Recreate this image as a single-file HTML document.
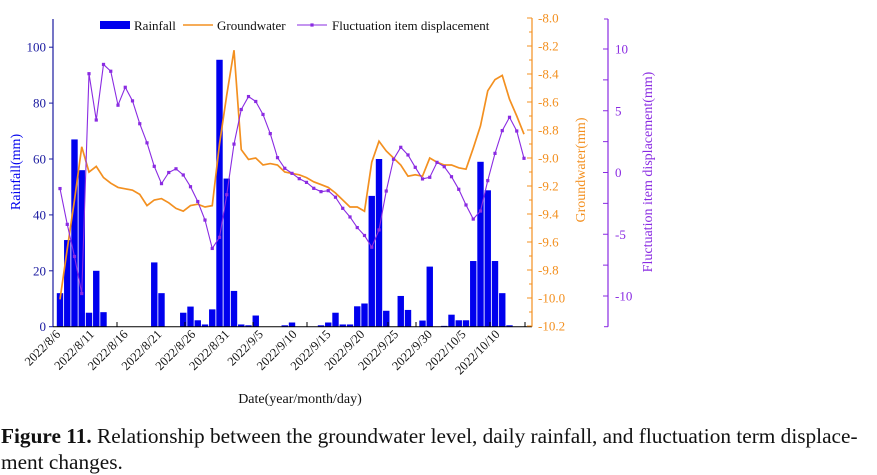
<!DOCTYPE html>
<html><head><meta charset="utf-8"><style>
body{margin:0;background:#fff;width:877px;height:474px;overflow:hidden}
svg{font-family:"Liberation Serif",serif}
.cap{position:absolute;left:1px;top:423px;font-family:"Liberation Serif",serif;font-size:21.3px;line-height:26px;color:#111;width:876px;white-space:nowrap}
</style></head><body>
<svg id="chart" width="877" height="420" style="position:absolute;left:0;top:0"></svg>
<div class="cap"><b>Figure 11.</b> Relationship between the groundwater level, daily rainfall, and fluctuation term displace-<br>ment changes.</div>
<script>
const dates=["2022/8/6","2022/8/11","2022/8/16","2022/8/21","2022/8/26","2022/8/31","2022/9/5","2022/9/10","2022/9/15","2022/9/20","2022/9/25","2022/9/30","2022/10/5","2022/10/10"];
const rainfall=[12,31,67,56,5,20,5.2,0,0,0,0,0,0,23,12,0,0,5,7.2,2.3,0.8,6.2,95.5,53,12.8,0.8,0.5,4,0,0,0,0.5,1.5,0,0,0,0.5,1.5,5,0.8,0.8,7.3,8.3,46.8,60,5.7,0,11,6,0,2.2,21.5,0,0.3,4.3,2.3,2.3,23.5,59,48.8,23.5,12,0.5,0,0];
const groundwater=[-10.01,-9.65,-9.3,-8.92,-9.1,-9.06,-9.14,-9.18,-9.21,-9.22,-9.23,-9.26,-9.34,-9.3,-9.29,-9.32,-9.36,-9.38,-9.34,-9.33,-9.35,-9.34,-8.9,-8.55,-8.23,-8.94,-9.01,-9.0,-9.05,-9.04,-9.05,-9.1,-9.11,-9.12,-9.14,-9.17,-9.19,-9.21,-9.25,-9.3,-9.35,-9.35,-9.38,-9.03,-8.88,-8.95,-9.0,-9.05,-9.13,-9.12,-9.13,-9.0,-9.03,-9.05,-9.05,-9.07,-9.08,-8.93,-8.77,-8.52,-8.44,-8.41,-8.58,-8.7,-8.83];
const displacement=[-1.3,-4.2,-6.8,-9.8,8.0,4.25,8.75,8.2,5.45,6.9,5.8,3.95,2.4,0.5,-0.9,0,0.3,-0.2,-1.15,-2.35,-3.85,-6.15,-5.25,-1.8,2.3,5.1,6.15,5.75,4.7,3.15,1.2,0.34,-0.07,-0.5,-0.8,-1.28,-1.55,-1.47,-2.0,-2.9,-3.6,-4.46,-5.1,-6.05,-4.65,-1.5,1.07,2.04,1.42,0.42,-0.52,-0.39,0.82,0.47,-0.34,-1.36,-2.63,-3.77,-3.12,-0.66,1.55,3.39,4.47,3.36,1.15];
const rainTicks=[0,20,40,60,80,100];
const gwTicks=["-8.0","-8.2","-8.4","-8.6","-8.8","-9.0","-9.2","-9.4","-9.6","-9.8","-10.0","-10.2"];
const dispTicks=[10,5,0,-5,-10];

const svg=document.getElementById('chart');
const NS="http://www.w3.org/2000/svg";
function mk(t,a,p){const e=document.createElementNS(NS,t);for(const k in a)e.setAttribute(k,a[k]);(p||svg).appendChild(e);return e;}
const X=i=>60+i*7.25;
const yR=v=>326.7-v*2.795;
const yG=v=>18+(-8-v)/2.2*308;
const yD=v=>172.5-v*12.35;
const blue="#0000ee",orange="#f39020",purple="#8a2be2";

rainfall.forEach((v,i)=>{if(v<=0)return;const r=mk('rect',{x:X(i)-3.2,y:yR(v),width:6.4,height:326.7-yR(v),fill:blue});

});
let l=mk('polyline',{points:groundwater.map((v,i)=>X(i)+','+yG(v)).join(' '),fill:'none',stroke:orange,'stroke-width':1.7});


l=mk('polyline',{points:displacement.map((v,i)=>X(i)+','+yD(v)).join(' '),fill:'none',stroke:purple,'stroke-width':1.1});


displacement.forEach((v,i)=>{const r=mk('rect',{x:X(i)-1.6,y:yD(v)-1.6,width:3.2,height:3.2,fill:purple});

});

let g=mk('g',{});
mk('line',{x1:53,y1:19,x2:53,y2:327,stroke:'#1a1aa0','stroke-width':1.2},g);
rainTicks.forEach(v=>{mk('line',{x1:49,x2:53,y1:yR(v),y2:yR(v),stroke:'#1a1aa0'},g);
const t=mk('text',{x:46,y:yR(v)+4.5,'text-anchor':'end','font-size':13,fill:'#1a1aa0'},g);t.textContent=v;});
let t=mk('text',{x:0,y:0,'text-anchor':'middle','font-size':14,fill:blue,transform:'translate(20,172) rotate(-90)'});t.textContent='Rainfall(mm)';


g=mk('g',{});
mk('line',{x1:53,y1:326.7,x2:532,y2:326.7,stroke:'#000','stroke-width':1},g);
[117,185,253,307,388,416,490,525].forEach(x=>mk('line',{x1:x,x2:x,y1:322,y2:326.7,stroke:'#000'},g));
dates.forEach((d,k)=>{const tx=mk('text',{x:0,y:0,'text-anchor':'end','font-size':12.5,fill:'#111',transform:`translate(${61+k*33.8},${335}) rotate(-45)`},g);tx.textContent=d;});
t=mk('text',{x:300,y:403,'text-anchor':'middle','font-size':14,fill:'#111'});t.textContent='Date(year/month/day)';


g=mk('g',{});
mk('line',{x1:532,y1:18,x2:532,y2:326.7,stroke:orange,'stroke-width':1.2},g);
for(let k=0;k<=22;k++){const y=18+k*14;mk('line',{x1:k%2?529:527,x2:532,y1:y,y2:y,stroke:orange},g);}
gwTicks.forEach(s=>{const tx=mk('text',{x:538,y:yG(parseFloat(s))+4.5,'font-size':13,fill:orange},g);tx.textContent=s;});
t=mk('text',{x:0,y:0,'text-anchor':'middle','font-size':14,fill:orange,transform:'translate(585,170) rotate(-90)'});t.textContent='Groundwater(mm)';


g=mk('g',{});
mk('line',{x1:608,y1:19,x2:608,y2:326.7,stroke:purple,'stroke-width':1.2},g);
mk('line',{x1:604,x2:608,y1:19,y2:19,stroke:purple},g);mk('line',{x1:604,x2:608,y1:326.7,y2:326.7,stroke:purple},g);
for(let v=-10;v<=10;v+=2.5)mk('line',{x1:603,x2:608,y1:yD(v),y2:yD(v),stroke:purple},g);
dispTicks.forEach(v=>{const tx=mk('text',{x:615,y:yD(v)+4.5,'font-size':13,fill:purple},g);tx.textContent=v;});
t=mk('text',{x:0,y:0,'text-anchor':'middle','font-size':14,fill:purple,transform:'translate(652,172) rotate(-90)'});t.textContent='Fluctuation item displacement(mm)';


g=mk('g',{});
mk('rect',{x:100,y:21,width:30,height:8,fill:blue},g);
t=mk('text',{x:134,y:30,'font-size':13,fill:'#111'},g);t.textContent='Rainfall';
mk('line',{x1:183,x2:213,y1:25,y2:25,stroke:orange,'stroke-width':1.6},g);
t=mk('text',{x:217,y:30,'font-size':13,fill:'#111'},g);t.textContent='Groundwater';
mk('line',{x1:297,x2:327,y1:25,y2:25,stroke:purple,'stroke-width':1.1},g);
mk('rect',{x:310.4,y:23.4,width:3.2,height:3.2,fill:purple},g);
t=mk('text',{x:332,y:30,'font-size':13,fill:'#111'},g);t.textContent='Fluctuation item displacement';
</script>
</body></html>
